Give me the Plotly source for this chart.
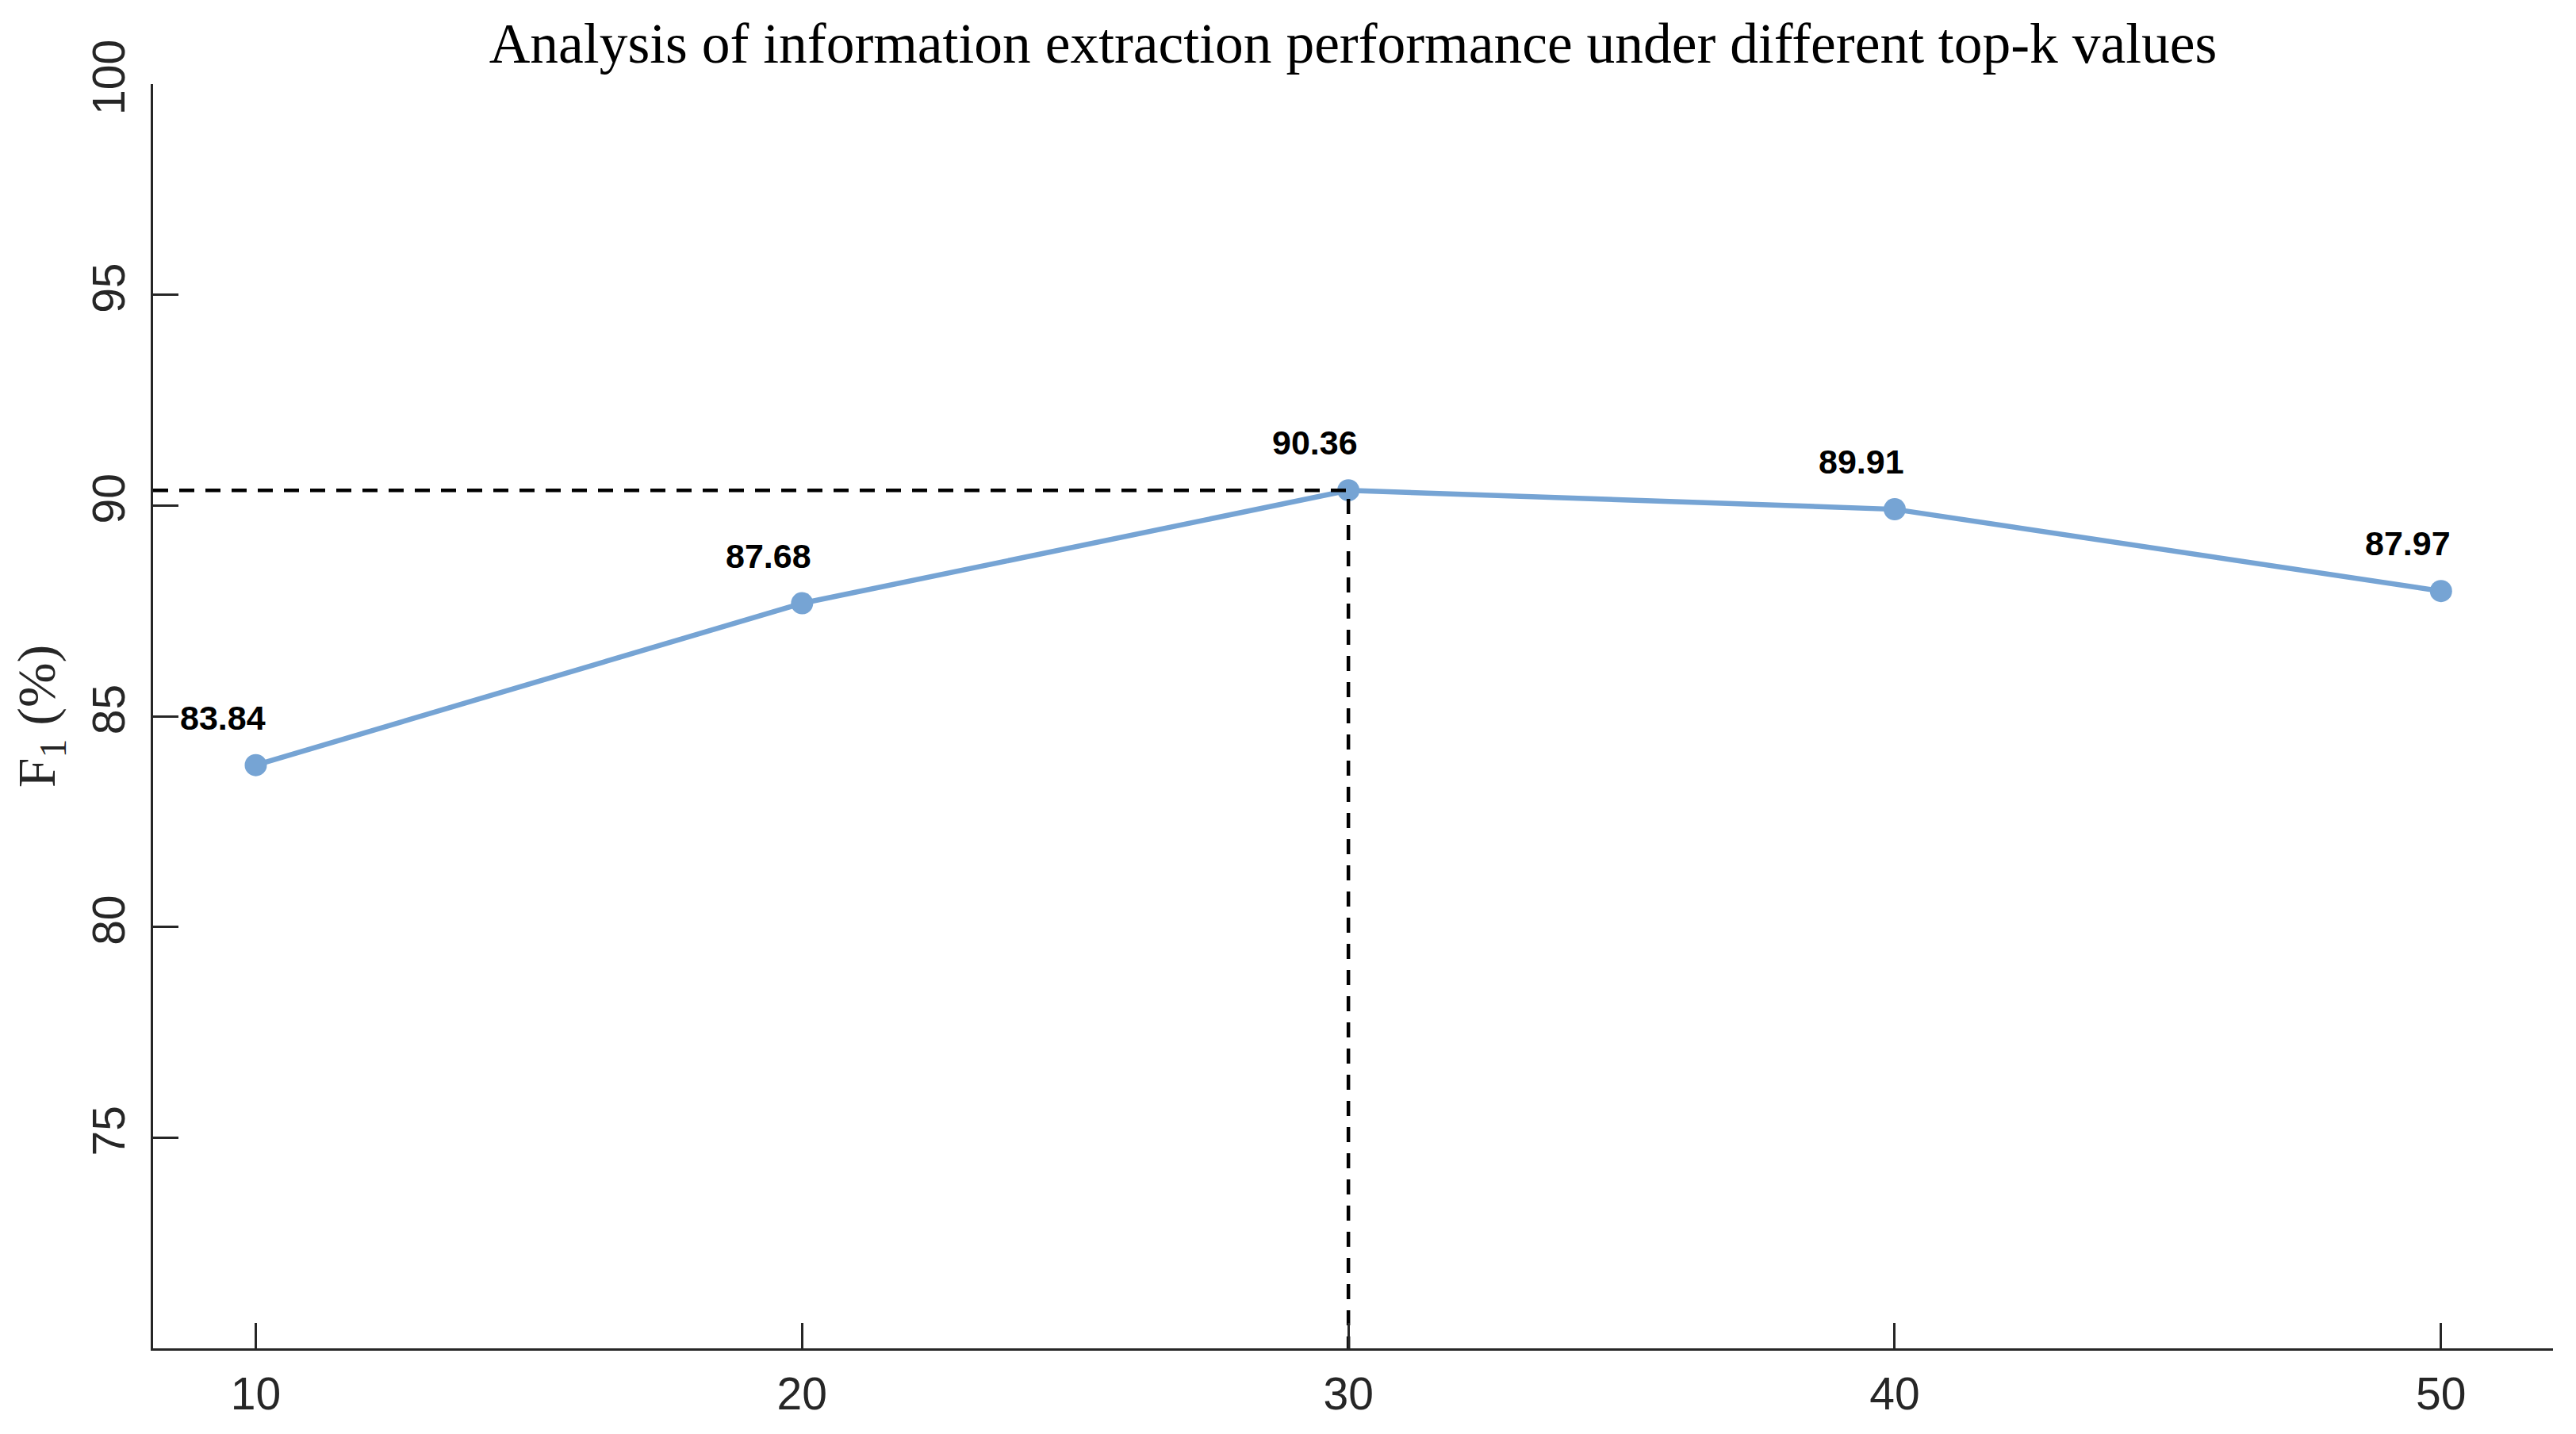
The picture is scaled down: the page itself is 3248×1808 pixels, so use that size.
import plotly.graph_objects as go

top_k = [10, 20, 30, 40, 50]
f1 = [83.84, 87.68, 90.36, 89.91, 87.97]
y_ticks = [75, 80, 85, 90, 95, 100]
x_ticks = [10, 20, 30, 40, 50]
title = "Analysis of information extraction performance under different top-k values"
y_title = "F<sub>1</sub> (%)"

x_range = [8.12, 52.05]
y_range = [70, 100]

best_i = max(range(len(f1)), key=lambda i: f1[i])
best_k, best_v = top_k[best_i], f1[best_i]

fig = go.Figure()
fig.add_trace(go.Scatter(
    x=top_k, y=f1, mode="lines+markers",
    line=dict(color="#76A4D4", width=6.5),
    marker=dict(color="#76A4D4", size=28),
    cliponaxis=False, showlegend=False,
))
fig.add_trace(go.Scatter(
    x=[x_range[0], best_k, best_k], y=[best_v, best_v, y_range[0]],
    mode="lines", line=dict(color="black", width=4.5, dash="19px,14px"),
    showlegend=False,
))

for k, v in zip(top_k, f1):
    fig.add_annotation(x=k, y=v, text=f"<b>{v:.2f}</b>", showarrow=False,
                       xshift=-42, yshift=60,
                       font=dict(family="Liberation Sans, Arial", size=43, color="black"))

axis_common = dict(showline=True, linecolor="#262626", linewidth=2.5,
                   ticks="inside", ticklen=32, tickwidth=2.5, tickcolor="#262626",
                   showgrid=False, zeroline=False, mirror=False,
                   tickfont=dict(family="Liberation Sans, Arial", size=57, color="#262626"))

L, R, T, B = 185, 37, 98, 116
fig.update_layout(
    width=3248, height=1808,
    paper_bgcolor="white", plot_bgcolor="white",
    margin=dict(l=L, r=R, t=T, b=B),
    title=dict(text=title, x=(L + 3248 - R) / 2 / 3248, xanchor="center",
               y=1 - 46 / 1808, yanchor="middle",
               font=dict(family="Liberation Serif, serif", size=71.5, color="black")),
    xaxis=dict(range=x_range, tickvals=x_ticks, ticklabelstandoff=6, **axis_common),
    yaxis=dict(range=y_range, tickvals=y_ticks, tickangle=-90, ticklabelstandoff=10,
               title=dict(text=y_title, standoff=28,
                          font=dict(family="Liberation Serif, serif", size=68, color="#262626")),
               **axis_common),
)

fig.write_html("out.html")
